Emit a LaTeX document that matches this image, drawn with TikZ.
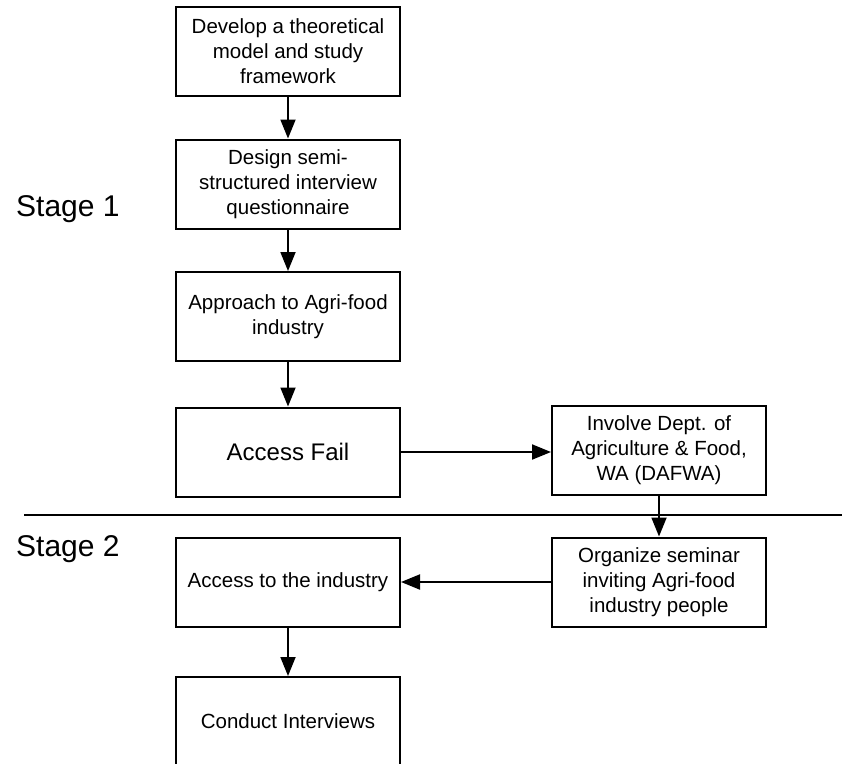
\documentclass[tikz,border=0pt]{standalone}
\usepackage{fontspec}
\setmainfont{Liberation Sans}
\usetikzlibrary{arrows.meta}
\begin{document}
\begin{tikzpicture}[x=1pt,y=-1pt,
  stepbox/.style={draw=black, line width=2pt, align=center, inner sep=2pt,
    minimum height=89pt, font=\fontsize{20.5}{25}\selectfont},
  leftbox/.style={stepbox, minimum width=224pt},
  rightbox/.style={stepbox, minimum width=214pt},
  flow/.style={line width=1.8pt, -{Triangle[length=19pt,width=15pt]}},
  stagelabel/.style={anchor=west, inner sep=0pt, font=\fontsize{30}{35}\selectfont},
]
\useasboundingbox (0,0) rectangle (842,763);
\clip (0,0) rectangle (842,763);

% stage 1 steps
\node[leftbox] (b1) at (288,51.5) {Develop a theoretical\\model and study\\framework};
\node[leftbox] (b2) at (288,184) {Design semi-\\structured interview\\questionnaire};
\node[leftbox] (b3) at (288,316.5) {Approach to Agri-food\\industry};
\node[leftbox, font=\fontsize{24}{28}\selectfont] (b4) at (288,452) {Access Fail};
\node[rightbox] (b5) at (659,450) {Involve Dept. of\\Agriculture \& Food,\\WA (DAFWA)};

% stage 2 steps
\node[rightbox] (b6) at (659,582) {Organize seminar\\inviting Agri-food\\industry people};
\node[leftbox] (b7) at (288,582) {Access to the industry};
\node[leftbox] (b8) at (288,721.5) {Conduct Interviews};

% stage labels and divider
\node[stagelabel] (s1) at (16,209) {Stage 1};
\node[stagelabel] (s2) at (16,549) {Stage 2};
\coordinate (divL) at (24,515);
\coordinate (divR) at (842,515);
\draw[line width=2pt] (divL) -- (divR);

% connectors
\draw[flow] (b1) -- (b2);
\draw[flow] (b2) -- (b3);
\draw[flow] (b3) -- (b4);
\draw[flow, line width=2pt] (b4.east) -- (b4.east -| b5.west);
\draw[flow] (b5) -- (b6);
\draw[flow, line width=2pt] (b6.west) -- (b6.west -| b7.east);
\draw[flow] (b7) -- (b8);
\end{tikzpicture}
\end{document}
